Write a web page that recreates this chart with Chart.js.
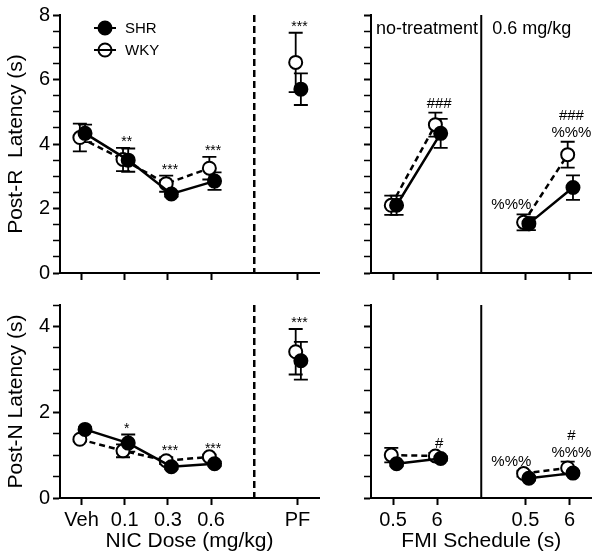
<!DOCTYPE html>
<html>
<head>
<meta charset="utf-8">
<script src="https://cdn.jsdelivr.net/npm/chart.js@4.4.1/dist/chart.umd.min.js"></script>
<style>
  html, body { margin: 0; padding: 0; background: #fff; }
  #wrap { position: relative; width: 600px; height: 558px; background: #fff; overflow: hidden; }
  canvas { position: absolute; }
</style>
</head>
<body>
<div id="wrap">
  <canvas id="tl" width="335" height="290" style="left:0;top:0"></canvas>
  <canvas id="tr" width="265" height="290" style="left:335px;top:0"></canvas>
  <canvas id="bl" width="335" height="268" style="left:0;top:290px"></canvas>
  <canvas id="br" width="265" height="268" style="left:335px;top:290px"></canvas>
</div>
<script>
// ---------------- DATA ----------------
const seriesNames = ['SHR', 'WKY'];
const nicLabels = ['Veh', '0.1', '0.3', '0.6', 'PF'];
const fmiLabels = ['0.5', '6', '0.5', '6'];
const fmiGroups = ['no-treatment', '0.6 mg/kg'];

// Post-R latency (s), NIC dose panel
const postR_SHR     = [4.33, 3.50, 2.45, 2.85, 5.70];
const postR_SHR_err = [0.27, 0.36, 0.08, 0.27, 0.49];
const postR_WKY     = [4.20, 3.52, 2.77, 3.25, 6.53];
const postR_WKY_err = [0.43, 0.36, 0.25, 0.35, 0.92];
// Post-R latency (s), FMI schedule panel
const fmiR_SHR      = [2.10, 4.33, 1.53, 2.65];
const fmiR_SHR_err  = [0.30, 0.45, 0.20, 0.38];
const fmiR_WKY      = [2.10, 4.60, 1.57, 3.67];
const fmiR_WKY_err  = [0.30, 0.37, 0.25, 0.40];
// Post-N latency (s), NIC dose panel
const postN_SHR     = [1.60, 1.28, 0.73, 0.80, 3.20];
const postN_SHR_err = [0.05, 0.20, 0.05, 0.05, 0.44];
const postN_WKY     = [1.37, 1.10, 0.87, 0.96, 3.41];
const postN_WKY_err = [0.05, 0.15, 0.08, 0.05, 0.53];
// Post-N latency (s), FMI schedule panel
const fmiN_SHR      = [0.80, 0.92, 0.46, 0.58];
const fmiN_SHR_err  = [0.05, 0.05, 0.05, 0.05];
const fmiN_WKY      = [1.00, 0.98, 0.57, 0.70];
const fmiN_WKY_err  = [0.17, 0.07, 0.07, 0.15];

// significance marks: category index and text lines (bottom line last)
const marksR_NIC = [{i: 1, t: ['**']}, {i: 2, t: ['***']}, {i: 3, t: ['***']}, {i: 4, t: ['***']}];
const marksR_FMI = [{i: 1, t: ['###']}, {i: 2, t: ['%%%'], right: true}, {i: 3, t: ['###', '%%%']}];
const marksN_NIC = [{i: 1, t: ['*']}, {i: 2, t: ['***']}, {i: 3, t: ['***']}, {i: 4, t: ['***']}];
const marksN_FMI = [{i: 1, t: ['#']}, {i: 2, t: ['%%%'], right: true}, {i: 3, t: ['#', '%%%']}];

// ---------------- RENDERING ----------------
const FONT = '"Liberation Sans", Arial, Helvetica, sans-serif';
Chart.defaults.font.family = FONT;
Chart.defaults.color = '#000';

const nicPos = [0, 1, 2, 3, 5];   // category slots (slot 4 = break)
const fmiPos = [0, 1, 3, 4];      // slot 2 = group divider
const OFF_SHR = 0.08, OFF_WKY = -0.04;

function pts(pos, vals, errs, off, gapAfter) {
  const out = [];
  vals.forEach((v, i) => {
    out.push({x: pos[i] + off, y: v, e: errs[i]});
    if (i === gapAfter) out.push({x: (pos[i] + pos[i + 1]) / 2, y: null});
  });
  return out;
}

const errPlugin = {
  id: 'errbars',
  beforeDatasetsDraw(chart) {
    const ctx = chart.ctx, xs = chart.scales.x, ys = chart.scales.y;
    ctx.save();
    ctx.strokeStyle = '#000';
    ctx.lineWidth = 1.8;
    ctx.setLineDash([]);
    chart.data.datasets.forEach(ds => {
      ds.data.forEach(p => {
        if (p.y == null || !p.e) return;
        const x = xs.getPixelForValue(p.x);
        const y1 = ys.getPixelForValue(p.y + p.e), y2 = ys.getPixelForValue(p.y - p.e);
        ctx.beginPath();
        ctx.moveTo(x, y1); ctx.lineTo(x, y2);
        ctx.moveTo(x - 7, y1); ctx.lineTo(x + 7, y1);
        ctx.moveTo(x - 7, y2); ctx.lineTo(x + 7, y2);
        ctx.stroke();
      });
    });
    ctx.restore();
  }
};

function panel(id, c) {
  const shr = pts(c.pos, c.shr, c.shrErr, OFF_SHR, c.gapAfter);
  const wky = pts(c.pos, c.wky, c.wkyErr, OFF_WKY, c.gapAfter);
  const extra = {
    id: 'extra' + id,
    beforeDatasetsDraw(chart) {
      const ctx = chart.ctx, ca = chart.chartArea, xs = chart.scales.x;
      const dx = xs.getPixelForValue(c.divider);
      ctx.save();
      ctx.strokeStyle = '#000';
      ctx.lineWidth = c.dashedDivider ? 2.5 : 2;
      ctx.setLineDash(c.dashedDivider ? [7, 4] : []);
      ctx.beginPath();
      ctx.moveTo(dx, ca.top); ctx.lineTo(dx, ca.bottom);
      ctx.stroke();
      ctx.restore();
    },
    afterDatasetsDraw(chart) {
      const ctx = chart.ctx, ca = chart.chartArea, xs = chart.scales.x, ys = chart.scales.y;
      ctx.save();
      ctx.fillStyle = '#000';
      // significance marks
      c.marks.forEach(m => {
        const top = Math.max(c.shr[m.i] + c.shrErr[m.i], c.wky[m.i] + c.wkyErr[m.i]);
        const px = xs.getPixelForValue(c.pos[m.i]) + 2;
        let py = ys.getPixelForValue(top);
        ctx.textBaseline = 'alphabetic';
        for (let k = m.t.length - 1; k >= 0; k--) {
          const s = m.t[k];
          const star = s[0] === '*';
          ctx.font = (star ? '14px ' : '15px ') + FONT;
          ctx.textAlign = m.right ? 'right' : 'center';
          const base = py - (star ? 2 : 5);
          ctx.fillText(s, m.right ? px + 4 : px, base);
          py = base - 12;
        }
      });
      // group labels
      if (c.groups) {
        ctx.font = '18px ' + FONT;
        ctx.textAlign = 'left';
        ctx.textBaseline = 'middle';
        ctx.fillText(c.groups[0], ca.left + 5, ca.top + 14);
        ctx.fillText(c.groups[1], xs.getPixelForValue(c.divider) + 11, ca.top + 14);
      }
      // legend
      if (c.legend) {
        const lx = ca.left + 45;
        [[0, '#000'], [1, '#fff']].forEach(([k, fill]) => {
          const ly = ca.top + 13 + k * 22;
          ctx.strokeStyle = '#000';
          ctx.lineWidth = 2;
          ctx.setLineDash([]);
          ctx.beginPath(); ctx.moveTo(lx - 11, ly); ctx.lineTo(lx + 11, ly); ctx.stroke();
          ctx.beginPath(); ctx.arc(lx, ly, 6.5, 0, Math.PI * 2);
          ctx.fillStyle = fill; ctx.fill(); ctx.stroke();
          if (k === 1) { ctx.beginPath(); ctx.moveTo(lx - 6.5, ly); ctx.lineTo(lx + 6.5, ly); ctx.stroke(); }
          ctx.fillStyle = '#000';
          ctx.font = '15px ' + FONT;
          ctx.textAlign = 'left';
          ctx.textBaseline = 'middle';
          ctx.fillText(seriesNames[k], lx + 20, ly + 1);
        });
      }
      ctx.restore();
    }
  };

  return new Chart(document.getElementById(id), {
    type: 'line',
    data: {
      datasets: [
        {label: seriesNames[0], data: shr, borderColor: '#000', borderWidth: 2.5,
         pointRadius: 6.5, pointBackgroundColor: '#000', pointBorderColor: '#000', pointBorderWidth: 2,
         spanGaps: false, tension: 0},
        {label: seriesNames[1], data: wky, borderColor: '#000', borderWidth: 2.5, borderDash: [6, 4],
         pointRadius: 6.5, pointBackgroundColor: '#fff', pointBorderColor: '#000', pointBorderWidth: 2,
         spanGaps: false, tension: 0}
      ]
    },
    options: {
      responsive: false,
      animation: false,
      devicePixelRatio: 1,
      layout: {padding: {top: 12, right: c.padRight, left: 0, bottom: 0}},
      plugins: {legend: {display: false}, tooltip: {enabled: false}},
      scales: {
        x: {
          type: 'linear', min: c.xMin, max: c.xMax,
          afterBuildTicks: s => { s.ticks = c.pos.map(v => ({value: v})); },
          afterFit: s => { s.height = c.xHeight; },
          ticks: {autoSkip: false, maxRotation: 0, color: '#000', font: {size: 20}, padding: 3,
                  callback: (v, i) => c.showX ? c.labels[i] : ''},
          grid: {drawOnChartArea: false, tickLength: 7, tickWidth: 2, tickColor: '#000'},
          border: {color: '#000', width: 2},
          title: {display: !!c.xTitle, text: c.xTitle || '', color: '#000', font: {size: 21},
                  padding: {top: 0, bottom: 4}}
        },
        y: {
          min: 0, max: c.yMax,
          afterFit: s => { s.width = c.yWidth; },
          ticks: {stepSize: 0.5, autoSkip: false, color: '#000', font: {size: 20}, padding: 3,
                  callback: v => (c.showY && Math.abs(v % 2) < 1e-9) ? String(v) : ''},
          grid: {drawOnChartArea: false, tickLength: 7, tickColor: '#000',
                 tickWidth: ctx => (Math.abs(ctx.tick.value % 2) < 1e-9 ? 2 : 1.5)},
          border: {color: '#000', width: 2},
          title: {display: !!c.yTitle, text: c.yTitle || '', color: '#000', font: {size: 21},
                  padding: {top: 4, bottom: 0}}
        }
      }
    },
    plugins: [errPlugin, extra]
  });
}

panel('tl', {pos: nicPos, labels: nicLabels, shr: postR_SHR, shrErr: postR_SHR_err, wky: postR_WKY, wkyErr: postR_WKY_err,
  gapAfter: 3, xMin: -0.5, xMax: 5.5, yMax: 8, yTitle: 'Post-R  Latency (s)', showX: false, showY: true,
  yWidth: 60, padRight: 16, xHeight: 17, divider: 4, dashedDivider: true, marks: marksR_NIC, legend: true});
panel('tr', {pos: fmiPos, labels: fmiLabels, shr: fmiR_SHR, shrErr: fmiR_SHR_err, wky: fmiR_WKY, wkyErr: fmiR_WKY_err,
  gapAfter: 1, xMin: -0.5, xMax: 4.5, yMax: 8, showX: false, showY: false,
  yWidth: 36, padRight: 5, xHeight: 17, divider: 2, dashedDivider: false, marks: marksR_FMI, groups: fmiGroups});
panel('bl', {pos: nicPos, labels: nicLabels, shr: postN_SHR, shrErr: postN_SHR_err, wky: postN_WKY, wkyErr: postN_WKY_err,
  gapAfter: 3, xMin: -0.5, xMax: 5.5, yMax: 4.5, yTitle: 'Post-N Latency (s)', xTitle: 'NIC Dose (mg/kg)', showX: true, showY: true,
  yWidth: 60, padRight: 16, xHeight: 60, divider: 4, dashedDivider: true, marks: marksN_NIC});
panel('br', {pos: fmiPos, labels: fmiLabels, shr: fmiN_SHR, shrErr: fmiN_SHR_err, wky: fmiN_WKY, wkyErr: fmiN_WKY_err,
  gapAfter: 1, xMin: -0.5, xMax: 4.5, yMax: 4.5, xTitle: 'FMI Schedule (s)', showX: true, showY: false,
  yWidth: 36, padRight: 5, xHeight: 60, divider: 2, dashedDivider: false, marks: marksN_FMI});
</script>
</body>
</html>
